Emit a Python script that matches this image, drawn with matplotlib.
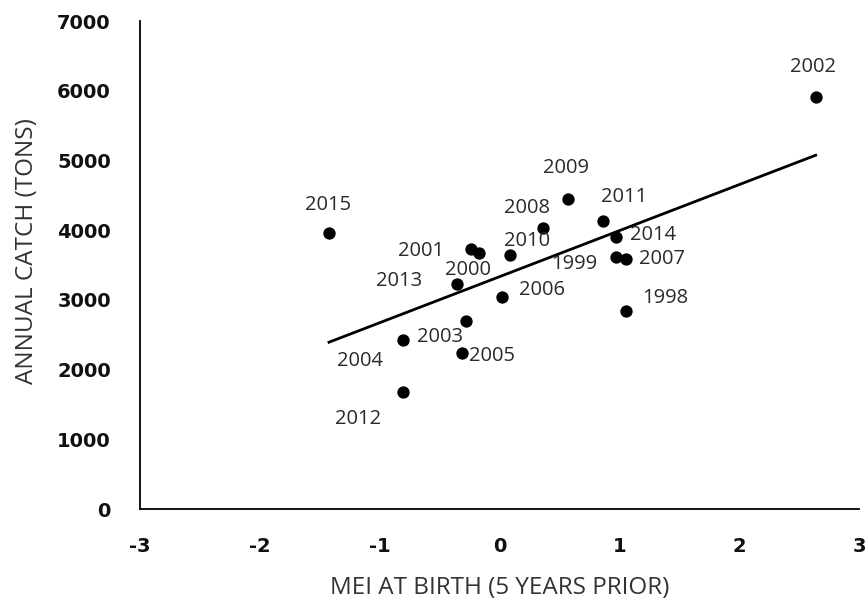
import numpy as np
import matplotlib
matplotlib.use('Agg')
import matplotlib.pyplot as plt

plt.rcParams['axes.unicode_minus'] = False

# MEI at birth (5 years prior) vs annual catch, one point per year
years = [1998, 1999, 2000, 2001, 2002, 2003, 2004, 2005, 2006,
         2007, 2008, 2009, 2010, 2011, 2012, 2013, 2014, 2015]
mei = [1.050, 0.970, -0.173, -0.240, 2.635, -0.284, -0.809, -0.317, 0.016,
       1.050, 0.358, 0.572, 0.085, 0.864, -0.809, -0.359, 0.970, -1.424]
catch = [2841, 3620, 3669, 3726, 5907, 2690, 2425, 2234, 3046,
         3587, 4027, 4443, 3640, 4136, 1683, 3224, 3898, 3956]

# label offsets in pixels (dx, dy), hand placed so they don't collide
label_offsets = {
	1998: (40, 13), 1999: (-42, -7), 2000: (-11, -17), 2001: (-50, -2),
	2002: (-3, 30), 2003: (-26, -16), 2004: (-43, -21), 2005: (30, -3),
	2006: (40, 7), 2007: (36, 0), 2008: (-16, 20), 2009: (-2, 31),
	2010: (17, 14), 2011: (21, 24), 2012: (-45, -27), 2013: (-58, 3),
	2014: (37, 2), 2015: (-1, 28),
}

fig = plt.figure(figsize=(8.67, 6.07), dpi=100)
ax = fig.add_axes([0.1615, 0.1614, 0.8298, 0.804])

ax.scatter(mei, catch, s=62, color='black', zorder=3)

# linear trendline over the data range
slope, intercept = np.polyfit(mei, catch, 1)
xs = np.array([min(mei), max(mei)])
ax.plot(xs, slope * xs + intercept, color='black', linewidth=2.0, zorder=2)

for yr, x, y in zip(years, mei, catch):
	dx, dy = label_offsets[yr]
	ax.annotate(str(yr), (x, y), xytext=(dx, dy), textcoords='offset pixels',
	            ha='center', va='center', fontsize=14.5, family='Open Sans',
	            color='#2a2a2a')

ax.set_xlim(-3, 3)
ax.set_ylim(0, 7000)
ax.set_xticks(range(-3, 4))
ax.set_yticks(range(0, 7001, 1000))

for side in ['top', 'right']:
	ax.spines[side].set_visible(False)
for side in ['left', 'bottom']:
	ax.spines[side].set_linewidth(1.3)

ax.tick_params(length=0, labelsize=14)
ax.tick_params(axis='y', pad=21)
ax.tick_params(axis='x', pad=20)
for lbl in ax.get_xticklabels() + ax.get_yticklabels():
	lbl.set_fontweight('bold')
	lbl.set_color('#111111')

ax.set_xlabel('MEI AT BIRTH (5 YEARS PRIOR)', fontsize=17.5, family='Open Sans', color='#333333')
ax.set_ylabel('ANNUAL CATCH (TONS)', fontsize=17.5, family='Open Sans', color='#333333')
ax.xaxis.set_label_coords(0.5, -0.137)
ax.yaxis.set_label_coords(-0.14, 0.529)

fig.savefig('out.png', dpi=100)
